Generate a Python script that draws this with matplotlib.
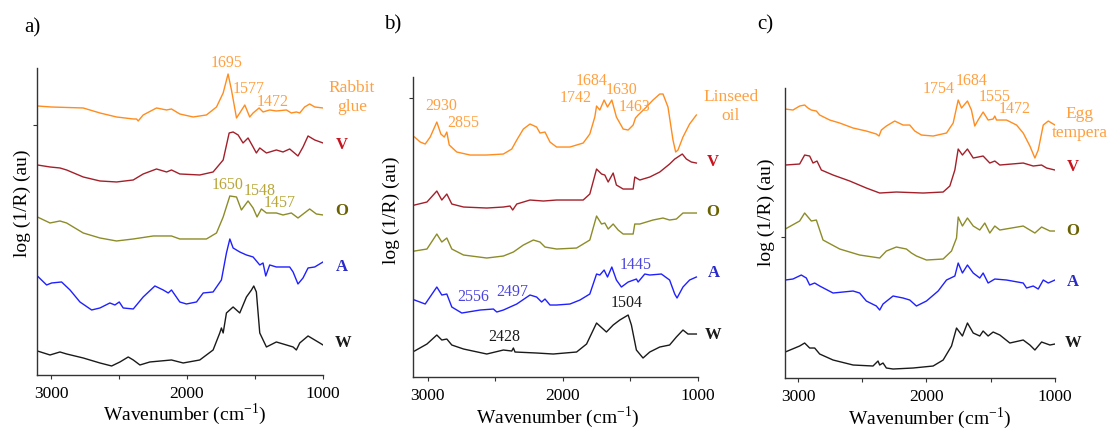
import matplotlib
matplotlib.use('Agg')
import matplotlib.pyplot as plt
from matplotlib.ticker import FixedLocator, NullFormatter

plt.rcParams['font.family'] = ['Liberation Serif', 'DejaVu Serif']

# ---- panel a: rabbit glue ----
a_glue_wn = [3100, 3000, 2763, 2640, 2518, 2395, 2371, 2359, 2322, 2224, 2150, 2114, 2053, 1955, 1857, 1783,
             1734, 1698, 1673, 1636, 1612, 1575, 1539, 1514, 1470, 1441, 1392, 1343, 1269, 1233, 1196, 1171,
             1135, 1098, 1061, 1000]
a_glue_y = [269, 268, 267, 262, 258, 256, 256, 254, 260, 267, 265, 266, 261, 258, 260, 268,
            282, 301, 285, 257, 262, 270, 258, 262, 267, 263, 265, 264, 265, 262, 263, 262,
            268, 271, 268, 267]
a_v_wn = [3100, 3007, 2934, 2885, 2763, 2640, 2518, 2395, 2371, 2322, 2224, 2150, 2114, 2053, 1906, 1808, 1734,
          1690, 1661, 1624, 1588, 1551, 1514, 1490, 1465, 1416, 1343, 1294, 1245, 1184, 1147, 1110, 1061, 1000]
a_v_y = [210, 208, 207, 205, 198, 194, 193, 195, 197, 201, 206, 203, 205, 201, 200, 203, 215,
         242, 243, 240, 232, 237, 228, 222, 227, 222, 225, 223, 226, 219, 228, 239, 235, 232]
a_o_wn = [3100, 3007, 2934, 2885, 2763, 2640, 2518, 2395, 2248, 2114, 2053, 1857, 1783, 1734, 1685, 1636, 1600,
          1551, 1514, 1485, 1453, 1416, 1343, 1294, 1233, 1184, 1098, 1049, 1000]
a_o_y = [158, 152, 154, 152, 142, 137, 134, 136, 139, 139, 136, 136, 142, 158, 179, 178, 165,
         174, 167, 158, 166, 162, 162, 160, 162, 157, 166, 161, 160]
a_a_wn = [3100, 3032, 2995, 2922, 2860, 2787, 2701, 2640, 2567, 2530, 2498, 2469, 2395, 2322, 2236, 2175, 2138,
          2114, 2053, 2004, 1930, 1881, 1808, 1747, 1710, 1685, 1661, 1612, 1563, 1514, 1465, 1441, 1421, 1392,
          1343, 1245, 1220, 1184, 1147, 1110, 1061, 1000]
a_a_y = [99, 90, 92, 93, 85, 73, 65, 67, 72, 70, 73, 67, 66, 78, 89, 85, 82,
         85, 73, 71, 73, 82, 83, 95, 122, 136, 127, 123, 120, 118, 110, 112, 99, 110,
         108, 108, 103, 91, 97, 107, 108, 113]
a_w_wn = [3100, 3007, 2934, 2885, 2763, 2640, 2554, 2493, 2432, 2395, 2346, 2273, 2114, 2028, 1906, 1808, 1759,
          1747, 1734, 1710, 1661, 1612, 1563, 1526, 1509, 1490, 1465, 1416, 1343, 1269, 1220, 1196, 1171, 1110,
          1061, 1024, 1000]
a_w_y = [24, 20, 23, 21, 17, 12, 9, 13, 18, 15, 10, 13, 15, 12, 15, 25, 42,
         47, 42, 62, 68, 62, 78, 85, 89, 83, 42, 28, 33, 30, 28, 25, 32, 39,
         35, 32, 30]

# ---- panel b: linseed oil ----
b_oil_wn = [3099, 3057, 3020, 2983, 2934, 2904, 2879, 2860, 2842, 2786, 2687, 2564, 2441, 2379, 2342, 2293,
            2244, 2195, 2170, 2133, 2096, 2047, 1948, 1850, 1801, 1764, 1751, 1727, 1695, 1670, 1638, 1604,
            1554, 1517, 1480, 1463, 1443, 1382, 1333, 1283, 1259, 1222, 1185, 1165, 1148, 1111, 1062, 1012]
b_oil_y = [240, 235, 233, 240, 255, 243, 240, 245, 232, 225, 222, 222, 223, 228, 237, 248,
           253, 250, 244, 245, 235, 230, 230, 234, 243, 260, 271, 267, 277, 270, 277, 260,
           248, 247, 252, 259, 262, 270, 277, 283, 283, 270, 237, 225, 227, 240, 253, 262]
b_v_wn = [3099, 3007, 2934, 2897, 2860, 2823, 2736, 2564, 2441, 2392, 2372, 2342, 2244, 2145, 2047, 1850, 1801,
          1751, 1714, 1690, 1665, 1628, 1604, 1554, 1480, 1468, 1431, 1357, 1283, 1210, 1172, 1116, 1086, 1049,
          1012]
b_v_y = [172, 175, 186, 177, 183, 173, 170, 169, 170, 171, 167, 173, 177, 176, 177, 177, 183,
         208, 203, 202, 195, 204, 192, 188, 188, 200, 197, 200, 205, 213, 218, 223, 218, 215,
         214]
b_o_wn = [3099, 3007, 2934, 2897, 2860, 2823, 2736, 2564, 2441, 2367, 2293, 2219, 2170, 2133, 2047, 1899, 1801,
          1751, 1714, 1690, 1665, 1628, 1591, 1554, 1480, 1468, 1431, 1333, 1259, 1210, 1160, 1111, 1012]
b_o_y = [126, 128, 143, 135, 139, 128, 122, 119, 121, 125, 132, 137, 135, 130, 128, 129, 137,
         161, 153, 154, 148, 153, 147, 143, 143, 153, 153, 157, 159, 157, 158, 164, 164]
b_a_wn = [3099, 3020, 2934, 2897, 2860, 2823, 2749, 2613, 2515, 2490, 2441, 2342, 2244, 2195, 2158, 2133, 2096,
          2047, 1948, 1874, 1801, 1751, 1727, 1695, 1670, 1638, 1604, 1567, 1517, 1456, 1443, 1394, 1357, 1271,
          1210, 1172, 1155, 1111, 1062, 1012]
b_a_y = [77, 73, 90, 82, 83, 70, 64, 67, 68, 65, 67, 73, 82, 80, 75, 78, 72,
         72, 73, 77, 83, 103, 102, 107, 100, 110, 97, 90, 95, 98, 95, 103, 102, 103,
         97, 83, 79, 90, 97, 100]
b_w_wn = [3099, 3007, 2934, 2897, 2860, 2823, 2736, 2564, 2441, 2379, 2367, 2355, 2195, 2072, 1899, 1825, 1751,
          1678, 1628, 1579, 1517, 1493, 1456, 1407, 1357, 1283, 1210, 1160, 1111, 1074, 1012]
b_w_y = [26, 33, 42, 37, 38, 32, 28, 23, 27, 26, 29, 25, 24, 23, 25, 33, 54,
         45, 52, 57, 62, 52, 27, 19, 25, 30, 32, 40, 47, 43, 43]

# ---- panel c: egg tempera ----
c_egg_wn = [3099, 3039, 2987, 2948, 2922, 2896, 2857, 2831, 2753, 2675, 2571, 2468, 2390, 2369, 2351, 2312,
            2247, 2182, 2130, 2091, 2039, 1948, 1844, 1792, 1753, 1727, 1681, 1650, 1624, 1598, 1559, 1520,
            1481, 1468, 1455, 1377, 1299, 1247, 1195, 1156, 1130, 1091, 1052, 1000]
c_egg_y = [269, 268, 272, 273, 270, 268, 267, 263, 258, 255, 250, 247, 244, 242, 248, 252,
           257, 253, 253, 247, 243, 242, 245, 255, 278, 270, 277, 268, 252, 258, 266, 258,
           259, 262, 258, 258, 253, 245, 232, 220, 228, 253, 257, 253]
c_v_wn = [3099, 2987, 2948, 2909, 2883, 2852, 2818, 2727, 2597, 2468, 2364, 2234, 2026, 1870, 1818, 1779, 1753,
          1720, 1681, 1636, 1559, 1507, 1468, 1429, 1247, 1169, 1104, 1065, 1000]
c_v_y = [213, 214, 223, 222, 215, 217, 208, 203, 197, 190, 185, 186, 185, 186, 192, 208, 229,
         223, 229, 220, 222, 215, 217, 213, 215, 212, 213, 210, 208]
c_o_wn = [3099, 2987, 2948, 2896, 2857, 2805, 2675, 2520, 2364, 2312, 2234, 2156, 2117, 2078, 2000, 1870, 1805,
          1766, 1753, 1720, 1681, 1636, 1585, 1546, 1507, 1468, 1429, 1247, 1195, 1156, 1104, 1039, 1000]
c_o_y = [149, 157, 165, 157, 158, 138, 129, 123, 120, 127, 131, 129, 125, 122, 118, 119, 127,
         140, 161, 152, 160, 152, 148, 155, 145, 152, 148, 152, 148, 145, 151, 147, 147]
c_a_wn = [3099, 3039, 2974, 2935, 2909, 2870, 2831, 2727, 2571, 2520, 2468, 2390, 2364, 2338, 2260, 2182, 2130,
          2104, 2078, 2000, 1909, 1844, 1779, 1753, 1720, 1681, 1636, 1585, 1559, 1520, 1468, 1377, 1247, 1221,
          1169, 1130, 1091, 1052, 1000]
c_a_y = [98, 99, 103, 100, 93, 95, 92, 85, 87, 85, 77, 72, 68, 74, 82, 80, 78,
         75, 72, 77, 87, 98, 102, 115, 105, 113, 105, 100, 105, 95, 99, 98, 95, 90,
         92, 89, 98, 95, 98]
c_w_wn = [3099, 2987, 2948, 2909, 2870, 2831, 2727, 2571, 2416, 2377, 2364, 2338, 2312, 2260, 2104, 1948, 1870,
          1805, 1766, 1720, 1681, 1636, 1585, 1559, 1520, 1481, 1429, 1351, 1247, 1195, 1156, 1104, 1039, 1000]
c_w_y = [26, 32, 35, 30, 30, 24, 18, 13, 12, 17, 13, 15, 10, 9, 10, 12, 18,
         32, 50, 42, 55, 45, 42, 47, 42, 46, 43, 35, 38, 33, 28, 36, 33, 34]

binder_names = ['Rabbit\nglue', 'Linseed\noil', 'Egg\ntempera']
sample_names = ['V', 'O', 'A', 'W']

line_cols = ['#ff8c1e', '#a3202a', '#8c8c28', '#2020ff', '#1a1a1a']
name_cols = ['#c8141e', '#6a6200', '#2a2ac8', '#1a1a1a']
orange_txt = '#ffa040'

fig = plt.figure(figsize=(11.1, 4.33), dpi=100)

# axes rectangles in figure fraction
rects = [[0.0333, 0.134, 0.2577, 0.709],
         [0.372, 0.1293, 0.2568, 0.6928],
         [0.7072, 0.127, 0.2432, 0.6697]]
xlims = [(3103, 1000), (3111, 1000), (3101, 1000)]
ylims = [(0, 307), (0, 300), (0, 290)]
yticks = [[250], [279], [141]]

panels = [
    [(a_glue_wn, a_glue_y), (a_v_wn, a_v_y), (a_o_wn, a_o_y), (a_a_wn, a_a_y), (a_w_wn, a_w_y)],
    [(b_oil_wn, b_oil_y), (b_v_wn, b_v_y), (b_o_wn, b_o_y), (b_a_wn, b_a_y), (b_w_wn, b_w_y)],
    [(c_egg_wn, c_egg_y), (c_v_wn, c_v_y), (c_o_wn, c_o_y), (c_a_wn, c_a_y), (c_w_wn, c_w_y)],
]

axs = []
for i in range(3):
    ax = fig.add_axes(rects[i])
    for k, (wn, yy) in enumerate(panels[i]):
        ax.plot(wn, yy, color=line_cols[k], lw=1.0)
    ax.set_xlim(*xlims[i])
    ax.set_ylim(*ylims[i])
    for s in ['top', 'right']:
        ax.spines[s].set_visible(False)
    for s in ['left', 'bottom']:
        ax.spines[s].set_color('#333333')
        ax.spines[s].set_linewidth(1.0)
    ax.xaxis.set_major_locator(FixedLocator([3000, 2000, 1000]))
    ax.xaxis.set_minor_locator(FixedLocator([2500, 1500]))
    ax.xaxis.set_minor_formatter(NullFormatter())
    ax.tick_params(axis='x', which='both', length=3, width=0.8, color='#333333',
                   labelsize=12.5, pad=5)
    ax.set_yticks(yticks[i])
    ax.set_yticklabels([])
    ax.tick_params(axis='y', length=3, width=0.8, color='#333333')
    ax.set_facecolor('none')
    axs.append(ax)

# axis titles
xlab_pos = [(0.517, -0.127), (0.509, -0.133), (0.537, -0.138)]
ylab_pos = [(-0.052, 0.56), (-0.074, 0.557), (-0.070, 0.57)]
for i, ax in enumerate(axs):
    ax.text(*xlab_pos[i], 'Wavenumber (cm$^{\\mathregular{-1}}$)', transform=ax.transAxes,
            ha='center', va='center', fontsize=14)
    ax.text(*ylab_pos[i], 'log (1/R) (au)', transform=ax.transAxes, rotation=90,
            ha='center', va='center', fontsize=14)

fig.text(32 / 1110, 1 - 28 / 433, 'a)', fontsize=15, ha='center', va='center')
fig.text(393 / 1110, 1 - 25 / 433, 'b)', fontsize=15, ha='center', va='center')
fig.text(765 / 1110, 1 - 25 / 433, 'c)', fontsize=15, ha='center', va='center')

# sample names on the right
name_pos = [[(860, 230), (860, 164), (860, 108), (853, 32)],
            [(889, 215), (889, 165), (881, 104), (889, 42)],
            [(860, 211), (860, 147), (860, 96), (860, 35)]]
binder_pos = [(787, 277), (755, 271), (805, 255)]
for i, ax in enumerate(axs):
    for k, nm in enumerate(sample_names):
        ax.text(*name_pos[i][k], nm, color=name_cols[k], fontsize=12, fontweight='bold',
                ha='center', va='center', clip_on=False)
    ax.text(*binder_pos[i], binder_names[i], color=orange_txt, fontsize=12.5,
            ha='center', va='center', linespacing=1.25, clip_on=False)

# peak annotations
olive_txt = '#b8a638'
blue_txt = '#4c44e0'
peaks = [
    [('1695', 1706, 312, orange_txt), ('1577', 1544, 286, orange_txt), ('1472', 1368, 273, orange_txt),
     ('1650', 1699, 190, olive_txt), ('1548', 1463, 184, olive_txt), ('1457', 1316, 172, olive_txt)],
    [('2930', 2904, 271, orange_txt), ('2855', 2741, 254, orange_txt), ('1742', 1904, 279, orange_txt),
     ('1684', 1785, 296, orange_txt), ('1630', 1563, 287, orange_txt), ('1463', 1471, 270, orange_txt),
     ('2556', 2667, 80, blue_txt), ('2497', 2378, 85, blue_txt), ('1445', 1459, 112, blue_txt),
     ('1504', 1526, 74, '#1a1a1a'), ('2428', 2437, 40, '#1a1a1a')],
    [('1754', 1903, 289, orange_txt), ('1684', 1646, 297, orange_txt), ('1555', 1467, 281, orange_txt),
     ('1472', 1311, 269, orange_txt)],
]
for i, ax in enumerate(axs):
    for lab, x, y, c in peaks[i]:
        ax.text(x, y, lab, color=c, fontsize=11.5, ha='center', va='center', clip_on=False)

fig.savefig('out.png', dpi=100)
